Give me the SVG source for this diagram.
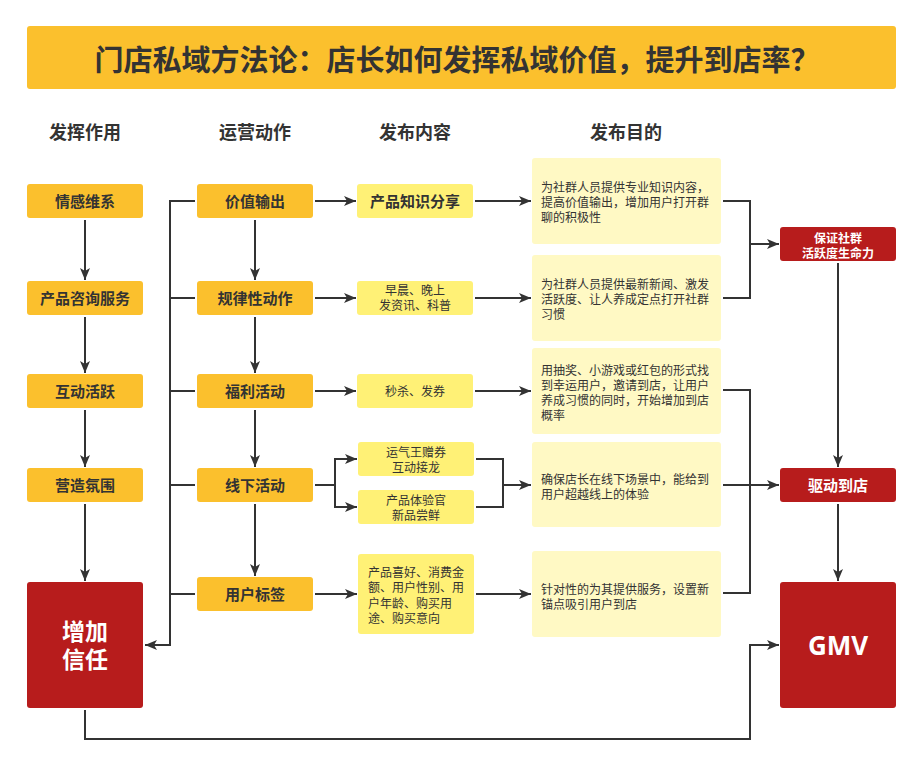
<svg xmlns="http://www.w3.org/2000/svg" width="922" height="764" viewBox="0 0 922 764">
<style>
.t{font-family:"Liberation Sans","Noto Sans CJK SC",sans-serif;fill:#333}
.c{text-anchor:middle;dominant-baseline:central}
.l{dominant-baseline:central}
.b15{font-size:15px;font-weight:bold}
.h{font-size:18px;font-weight:bold}
.s12{font-size:12px}
.w{fill:#fff}
.act{fill:#FBC02D}
.cnt{fill:#FFF176}
.pur{fill:#FFF9C4}
.red{fill:#B71C1C}
.ln{stroke:#333;stroke-width:2;fill:none}
.ar{marker-end:url(#a)}
</style>
<defs>
<marker id="a" markerUnits="userSpaceOnUse" markerWidth="12" markerHeight="10" viewBox="0 0 12 10" refX="12" refY="5" orient="auto">
<path d="M0,0 L12,5 L0,10 L3,5 Z" fill="#333"/>
</marker>
</defs>
<rect width="922" height="764" fill="#fff"/>
<g id="title">
<rect x="27" y="26" width="869" height="63" rx="3" fill="#FBC02D"/>
<text class="t c" x="457" y="61" style="font-size:29px;font-weight:bold">门店私域方法论：店长如何发挥私域价值，提升到店率？</text>
</g>
<g id="headers">
<text class="t c h" x="85" y="133">发挥作用</text>
<text class="t c h" x="255" y="133">运营动作</text>
<text class="t c h" x="415" y="133">发布内容</text>
<text class="t c h" x="626" y="133">发布目的</text>
</g>
<g id="connectors">
<path class="ln ar" d="M85,220 V280"/>
<path class="ln ar" d="M85,317 V373"/>
<path class="ln ar" d="M85,410 V467"/>
<path class="ln ar" d="M85,504 V581"/>
<path class="ln ar" d="M255,220 V280"/>
<path class="ln ar" d="M255,317 V373"/>
<path class="ln ar" d="M255,410 V467"/>
<path class="ln ar" d="M255,504 V576"/>
<path class="ln ar" d="M195,201 H170 V645 H145"/>
<path class="ln" d="M195,298 H170"/>
<path class="ln" d="M195,391 H170"/>
<path class="ln" d="M195,485 H170"/>
<path class="ln" d="M195,594 H170"/>
<path class="ln ar" d="M315,201 H356"/>
<path class="ln ar" d="M315,298 H356"/>
<path class="ln ar" d="M315,391 H356"/>
<path class="ln ar" d="M315,594 H357"/>
<path class="ln ar" d="M315,485 H335 V459 H357"/>
<path class="ln ar" d="M335,485 V507 H357"/>
<path class="ln ar" d="M475,201 H531"/>
<path class="ln ar" d="M475,298 H531"/>
<path class="ln ar" d="M475,391 H531"/>
<path class="ln ar" d="M476,594 H531"/>
<path class="ln ar" d="M476,459 H503 V485 H531"/>
<path class="ln" d="M476,507 H503 V485"/>
<path class="ln ar" d="M723,201 H750 V244 H779"/>
<path class="ln" d="M723,298 H750 V244"/>
<path class="ln ar" d="M723,390 H750 V485 H779"/>
<path class="ln" d="M723,485 H750"/>
<path class="ln" d="M723,593 H750 V485"/>
<path class="ln ar" d="M838,263 V467"/>
<path class="ln ar" d="M838,504 V581"/>
<path class="ln ar" d="M85,710 V739 H750 V645 H779"/>
</g>
<g id="n1"><rect class="act" x="27" y="184" width="116" height="34" rx="3"/><text class="t c b15" x="85" y="201">情感维系</text></g>
<g id="n2"><rect class="act" x="27" y="281" width="116" height="34" rx="3"/><text class="t c b15" x="85" y="298">产品咨询服务</text></g>
<g id="n3"><rect class="act" x="27" y="374" width="116" height="34" rx="3"/><text class="t c b15" x="85" y="391">互动活跃</text></g>
<g id="n4"><rect class="act" x="27" y="468" width="116" height="34" rx="3"/><text class="t c b15" x="85" y="485">营造氛围</text></g>
<g id="n5"><rect class="red" x="27" y="582" width="116" height="126" rx="3"/><text class="t c w" x="85" y="632" style="font-size:23px;font-weight:bold">增加</text><text class="t c w" x="85" y="660" style="font-size:23px;font-weight:bold">信任</text></g>
<g id="a1"><rect class="act" x="197" y="184" width="116" height="34" rx="3"/><text class="t c b15" x="255" y="201">价值输出</text></g>
<g id="a2"><rect class="act" x="197" y="281" width="116" height="34" rx="3"/><text class="t c b15" x="255" y="298">规律性动作</text></g>
<g id="a3"><rect class="act" x="197" y="374" width="116" height="34" rx="3"/><text class="t c b15" x="255" y="391">福利活动</text></g>
<g id="a4"><rect class="act" x="197" y="468" width="116" height="34" rx="3"/><text class="t c b15" x="255" y="485">线下活动</text></g>
<g id="a5"><rect class="act" x="197" y="577" width="116" height="34" rx="3"/><text class="t c b15" x="255" y="594">用户标签</text></g>
<g id="c1"><rect class="cnt" x="357" y="184" width="116" height="34" rx="3"/><text class="t c b15" x="415" y="201">产品知识分享</text></g>
<g id="c2"><rect class="cnt" x="357" y="281" width="116" height="34" rx="3"/><text class="t c s12" x="415" y="291">早晨、晚上</text><text class="t c s12" x="415" y="306">发资讯、科普</text></g>
<g id="c3"><rect class="cnt" x="357" y="374" width="116" height="34" rx="3"/><text class="t c s12" x="415" y="392">秒杀、发券</text></g>
<g id="c4"><rect class="cnt" x="358" y="442" width="116" height="34" rx="3"/><text class="t c s12" x="416" y="453">运气王赠券</text><text class="t c s12" x="416" y="468">互动接龙</text></g>
<g id="c5"><rect class="cnt" x="358" y="490" width="116" height="34" rx="3"/><text class="t c s12" x="416" y="501">产品体验官</text><text class="t c s12" x="416" y="516">新品尝鲜</text></g>
<g id="c6"><rect class="cnt" x="358" y="554" width="116" height="80" rx="3"/><text class="t l s12" x="368" y="573">产品喜好、消费金</text><text class="t l s12" x="368" y="588">额、用户性别、用</text><text class="t l s12" x="368" y="604">户年龄、购买用</text><text class="t l s12" x="368" y="619">途、购买意向</text></g>
<g id="p1"><rect class="pur" x="532" y="158" width="189" height="86" rx="3"/><text class="t l s12" x="541" y="188">为社群人员提供专业知识内容，</text><text class="t l s12" x="541" y="203">提高价值输出，增加用户打开群</text><text class="t l s12" x="541" y="218">聊的积极性</text></g>
<g id="p2"><rect class="pur" x="532" y="255" width="189" height="86" rx="3"/><text class="t l s12" x="541" y="285">为社群人员提供最新新闻、激发</text><text class="t l s12" x="541" y="300">活跃度、让人养成定点打开社群</text><text class="t l s12" x="541" y="315">习惯</text></g>
<g id="p3"><rect class="pur" x="532" y="348" width="189" height="86" rx="3"/><text class="t l s12" x="541" y="371">用抽奖、小游戏或红包的形式找</text><text class="t l s12" x="541" y="386">到幸运用户，邀请到店，让用户</text><text class="t l s12" x="541" y="401">养成习惯的同时，开始增加到店</text><text class="t l s12" x="541" y="416">概率</text></g>
<g id="p4"><rect class="pur" x="532" y="442" width="189" height="85" rx="3"/><text class="t l s12" x="541" y="480">确保店长在线下场景中，能给到</text><text class="t l s12" x="541" y="495">用户超越线上的体验</text></g>
<g id="p5"><rect class="pur" x="532" y="551" width="189" height="86" rx="3"/><text class="t l s12" x="541" y="590">针对性的为其提供服务，设置新</text><text class="t l s12" x="541" y="605">锚点吸引用户到店</text></g>
<g id="r1"><rect class="red" x="780" y="227" width="116" height="34" rx="3"/><text class="t c s12 w" x="838" y="239" style="font-weight:bold">保证社群</text><text class="t c s12 w" x="838" y="254" style="font-weight:bold">活跃度生命力</text></g>
<g id="r2"><rect class="red" x="780" y="468" width="116" height="34" rx="3"/><text class="t c b15 w" x="838" y="485">驱动到店</text></g>
<g id="r3"><rect class="red" x="780" y="582" width="116" height="126" rx="3"/><text class="c w" x="838" y="645" style="font-family:'Open Sans','Noto Sans',sans-serif;font-size:26px;font-weight:bold">GMV</text></g>
</svg>
